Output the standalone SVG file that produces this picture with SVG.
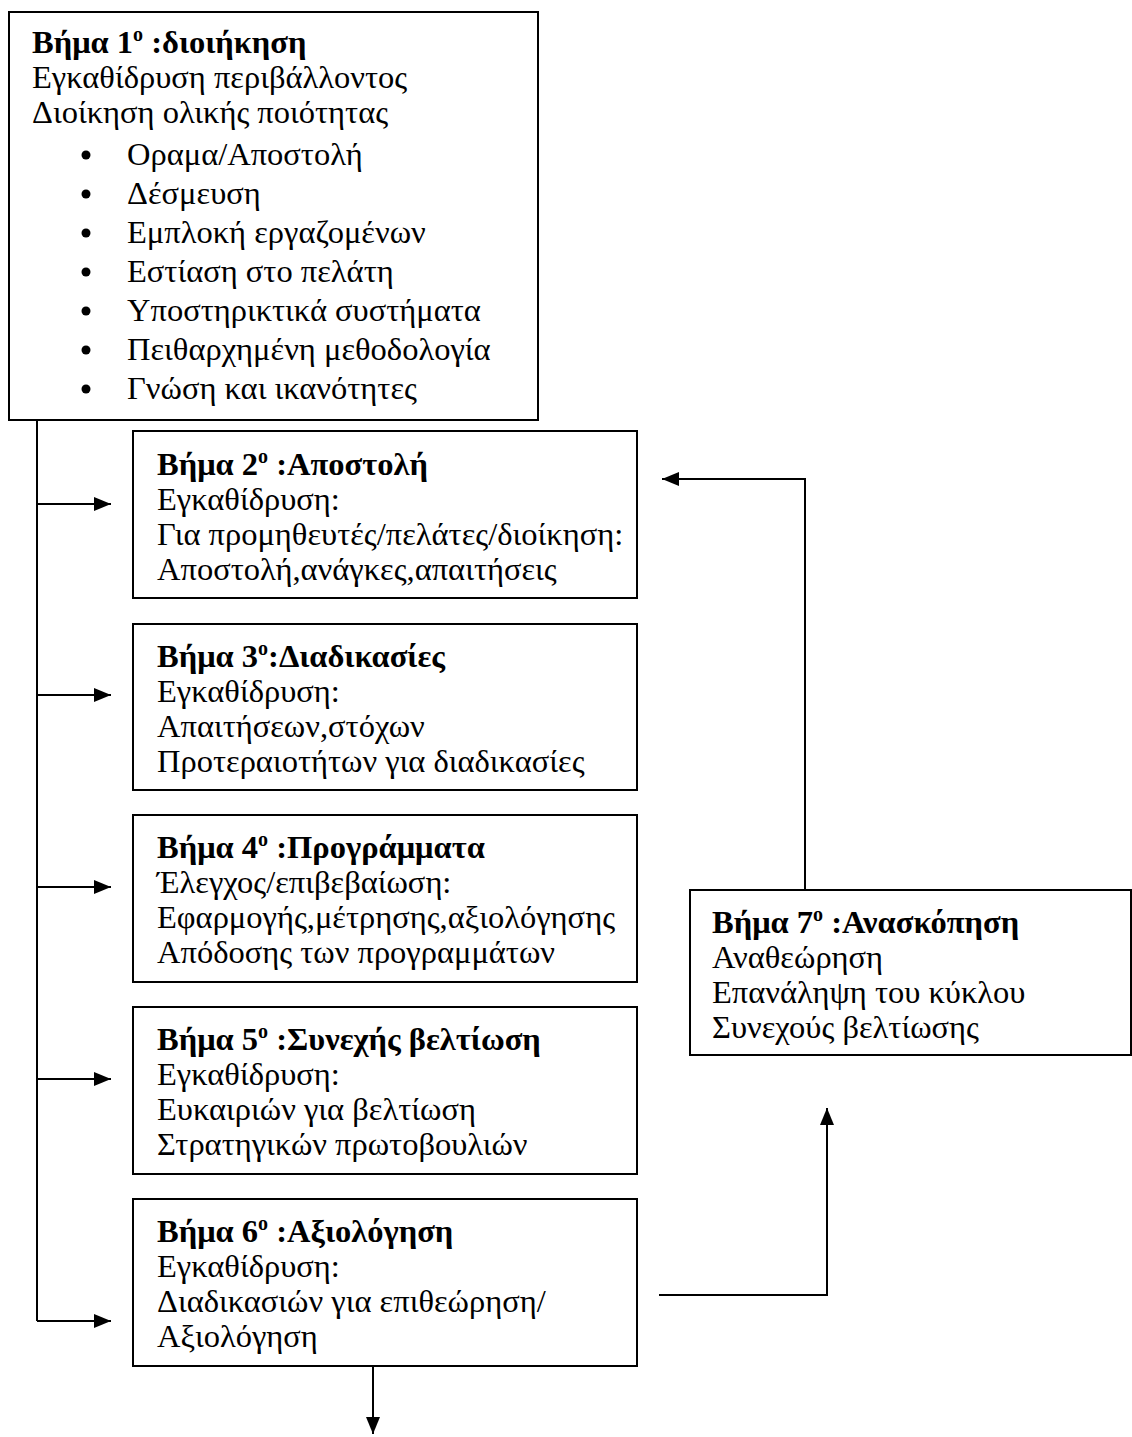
<svg xmlns="http://www.w3.org/2000/svg" width="1132" height="1437" viewBox="0 0 1132 1437">
<style>
.box{fill:#fff;stroke:#000;stroke-width:2}
.t{font-family:"Liberation Serif","Times New Roman",serif;font-size:32.5px;fill:#000}
.b{font-weight:bold}
.sup{font-size:20px}
.bul{fill:#000}
.conn{stroke:#000;stroke-width:2;fill:none}
</style>
<defs>
<marker id="ah" markerUnits="userSpaceOnUse" markerWidth="18" markerHeight="14" refX="17" refY="7" orient="auto">
<path d="M0,0 L17,7 L0,14 z" fill="#000"/>
</marker>
</defs>
<rect width="1132" height="1437" fill="#fff"/>
<g id="connectors">
<path class="conn" d="M37,420 V1321"/>
<path class="conn" d="M37,504 H111" marker-end="url(#ah)"/>
<path class="conn" d="M37,695 H111" marker-end="url(#ah)"/>
<path class="conn" d="M37,887 H111" marker-end="url(#ah)"/>
<path class="conn" d="M37,1079 H111" marker-end="url(#ah)"/>
<path class="conn" d="M37,1321 H111" marker-end="url(#ah)"/>
<path class="conn" d="M373,1366 V1434" marker-end="url(#ah)"/>
<path class="conn" d="M659,1295 H827 V1108" marker-end="url(#ah)"/>
<path class="conn" d="M805,890 V479 H662" marker-end="url(#ah)"/>
</g>
<g id="step1">
<rect class="box" x="9" y="12" width="529" height="408"/>
<text class="t b" x="32" y="53">Βήμα 1<tspan class="sup" dy="-12">ο</tspan><tspan dy="12"> :διοιήκηση</tspan></text>
<text class="t" x="32" y="88">Εγκαθίδρυση περιβάλλοντος</text>
<text class="t" x="32" y="123">Διοίκηση ολικής ποιότητας</text>
<circle class="bul" cx="86" cy="155" r="4.5"/><text class="t" x="127" y="165">Οραμα/Αποστολή</text>
<circle class="bul" cx="86" cy="194" r="4.5"/><text class="t" x="127" y="204">Δέσμευση</text>
<circle class="bul" cx="86" cy="233" r="4.5"/><text class="t" x="127" y="243">Εμπλοκή εργαζομένων</text>
<circle class="bul" cx="86" cy="272" r="4.5"/><text class="t" x="127" y="282">Εστίαση στο πελάτη</text>
<circle class="bul" cx="86" cy="311" r="4.5"/><text class="t" x="127" y="321">Υποστηρικτικά συστήματα</text>
<circle class="bul" cx="86" cy="350" r="4.5"/><text class="t" x="127" y="360">Πειθαρχημένη μεθοδολογία</text>
<circle class="bul" cx="86" cy="389" r="4.5"/><text class="t" x="127" y="399">Γνώση και ικανότητες</text>
</g>
<g id="step2">
<rect class="box" x="133" y="431" width="504" height="167"/>
<text class="t b" x="157" y="475">Βήμα 2<tspan class="sup" dy="-12">ο</tspan><tspan dy="12"> :Αποστολή</tspan></text>
<text class="t" x="157" y="510">Εγκαθίδρυση:</text>
<text class="t" x="157" y="545">Για προμηθευτές/πελάτες/διοίκηση:</text>
<text class="t" x="157" y="580">Αποστολή,ανάγκες,απαιτήσεις</text>
</g>
<g id="step3">
<rect class="box" x="133" y="624" width="504" height="166"/>
<text class="t b" x="157" y="667">Βήμα 3<tspan class="sup" dy="-12">ο</tspan><tspan dy="12">:Διαδικασίες</tspan></text>
<text class="t" x="157" y="702">Εγκαθίδρυση:</text>
<text class="t" x="157" y="737">Απαιτήσεων,στόχων</text>
<text class="t" x="157" y="772">Προτεραιοτήτων για διαδικασίες</text>
</g>
<g id="step4">
<rect class="box" x="133" y="815" width="504" height="167"/>
<text class="t b" x="157" y="858">Βήμα 4<tspan class="sup" dy="-12">ο</tspan><tspan dy="12"> :Προγράμματα</tspan></text>
<text class="t" x="157" y="893">Έλεγχος/επιβεβαίωση:</text>
<text class="t" x="157" y="928">Εφαρμογής,μέτρησης,αξιολόγησης</text>
<text class="t" x="157" y="963">Απόδοσης των προγραμμάτων</text>
</g>
<g id="step5">
<rect class="box" x="133" y="1007" width="504" height="167"/>
<text class="t b" x="157" y="1050">Βήμα 5<tspan class="sup" dy="-12">ο</tspan><tspan dy="12"> :Συνεχής βελτίωση</tspan></text>
<text class="t" x="157" y="1085">Εγκαθίδρυση:</text>
<text class="t" x="157" y="1120">Ευκαιριών για βελτίωση</text>
<text class="t" x="157" y="1155">Στρατηγικών πρωτοβουλιών</text>
</g>
<g id="step6">
<rect class="box" x="133" y="1199" width="504" height="167"/>
<text class="t b" x="157" y="1242">Βήμα 6<tspan class="sup" dy="-12">ο</tspan><tspan dy="12"> :Αξιολόγηση</tspan></text>
<text class="t" x="157" y="1277">Εγκαθίδρυση:</text>
<text class="t" x="157" y="1312">Διαδικασιών για επιθεώρηση/</text>
<text class="t" x="157" y="1347">Αξιολόγηση</text>
</g>
<g id="step7">
<rect class="box" x="690" y="890" width="441" height="165"/>
<text class="t b" x="712" y="933">Βήμα 7<tspan class="sup" dy="-12">ο</tspan><tspan dy="12"> :Ανασκόπηση</tspan></text>
<text class="t" x="712" y="968">Αναθεώρηση</text>
<text class="t" x="712" y="1003">Επανάληψη του κύκλου</text>
<text class="t" x="712" y="1038">Συνεχούς βελτίωσης</text>
</g>
</svg>
